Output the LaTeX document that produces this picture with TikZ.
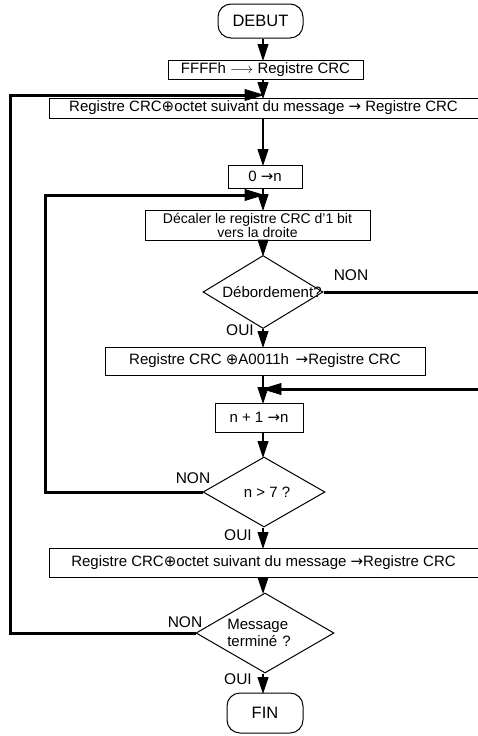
\documentclass[tikz,border=0pt]{standalone}
\usepackage{fontspec}
\setmainfont{Liberation Sans}
\newfontfamily\symfont{DejaVu Sans}
\newcommand\toarr{{\symfont →}}
\newcommand\xorsym{{\symfont ⊕}}
\usetikzlibrary{shapes.geometric}
\tikzset{
  box/.style={draw,line width=0.9pt,inner sep=0pt},
  term/.style={draw,line width=1pt,rounded corners=13pt,inner sep=0pt,font=\fontsize{16.5}{18}\selectfont},
  dia/.style={draw,diamond,line width=1pt,inner sep=0pt},
  fwd/.style={line width=2pt,shorten >=5pt},
  back/.style={line width=3pt,shorten >=8pt},
  tip/.style={draw=black,fill=black,line width=0.8pt,line join=miter},
  lbl/.style={font=\fontsize{15.5}{17}\selectfont}}
\begin{document}
\begin{tikzpicture}[x=1pt,y=-1pt,font=\fontsize{15}{17}\selectfont]
\useasboundingbox (0,0) rectangle (478,736);
% main column
\node[term,minimum width=85pt,minimum height=34pt] (debut) at (260.5,21) {DEBUT};
\node[box,minimum width=195pt,minimum height=19pt] (init) at (265.5,69.5) {FFFFh $\longrightarrow$ Registre CRC};
\node[box,minimum width=429pt,minimum height=20pt] (xor1) at (263.5,108) {Registre CRC\xorsym octet suivant du message \toarr\ Registre CRC};
\node[box,minimum width=74pt,minimum height=23pt] (zero) at (265,176.5) {0 \toarr n};
\node[box,minimum width=225pt,minimum height=30pt,align=center,font=\fontsize{14}{11.5}\selectfont] (shift) at (257.5,225) {Décaler le registre CRC d'1 bit\\vers la droite};
\node[dia,minimum width=120pt,minimum height=73pt,
  label={[xshift=9pt,inner sep=0pt]center:Débordement?}] (ovf) at (263,292) {};
\node[box,minimum width=320pt,minimum height=28pt] (xor2) at (265,361) {Registre CRC \xorsym A0011h \,\toarr Registre CRC};
\node[box,minimum width=88pt,minimum height=29pt] (inc) at (259,417.5) {n + 1 \toarr n};
\node[dia,minimum width=122pt,minimum height=70pt,
  label={[xshift=3pt,inner sep=0pt]center:n > 7 ?}] (cnt) at (264,492) {};
\node[box,minimum width=429pt,minimum height=29pt] (xor3) at (263.5,562.5) {Registre CRC\xorsym octet suivant du message \toarr Registre CRC};
\node[dia,minimum width=138pt,minimum height=80pt,
  label={[xshift=-6pt,inner sep=0pt,align=left,font=\fontsize{15}{17}\selectfont]center:Message\\terminé\hspace{5pt}?}] (msg) at (265,633) {};
\node[term,minimum width=76pt,minimum height=40pt] (fin) at (265,713) {FIN};
% junction points and loop rails
\coordinate (j1) at (263,95);
\coordinate (j2) at (263,195);
\coordinate (j3) at (263,389);
\coordinate (railA) at (10,0);
\coordinate (railB) at (45,0);
\coordinate (railC) at (481,0);
% straight flow, each with a filled head pointing down onto the next block
\foreach \a/\b in {debut/init,init/xor1,xor1/zero,zero/shift,shift/ovf,ovf/xor2,xor2/inc,inc/cnt,cnt/xor3,xor3/msg,msg/fin}{
  \draw[fwd] (\a.south -| j1) -- (\b.north -| j1);
  \path[tip] (\b.north -| j1) -- ++(-5,-15) -- ++(10,0) -- cycle;
}
% loops back
\draw[back] (msg.west) -- (msg.west -| railA) -- (j1 -| railA) -- (j1);
\path[tip] (j1) -- ++(-18,-5.5) -- ++(0,11) -- cycle;
\draw[back] (cnt.west) -- (cnt.west -| railB) -- (j2 -| railB) -- (j2);
\path[tip] (j2) -- ++(-18,-5.5) -- ++(0,11) -- cycle;
\draw[back] (ovf.east) -- (ovf.east -| railC) -- (j3 -| railC) -- (j3);
\path[tip] (j3) -- ++(18,-5.5) -- ++(0,11) -- cycle;
% branch labels
\node[lbl] (n1) at (351,275) {NON};
\node[lbl] (o1) at (240,330) {OUI};
\node[lbl] (n2) at (193,478) {NON};
\node[lbl] (o2) at (238,535) {OUI};
\node[lbl] (n3) at (185,622) {NON};
\node[lbl] (o3) at (238,679) {OUI};
\end{tikzpicture}
\end{document}
